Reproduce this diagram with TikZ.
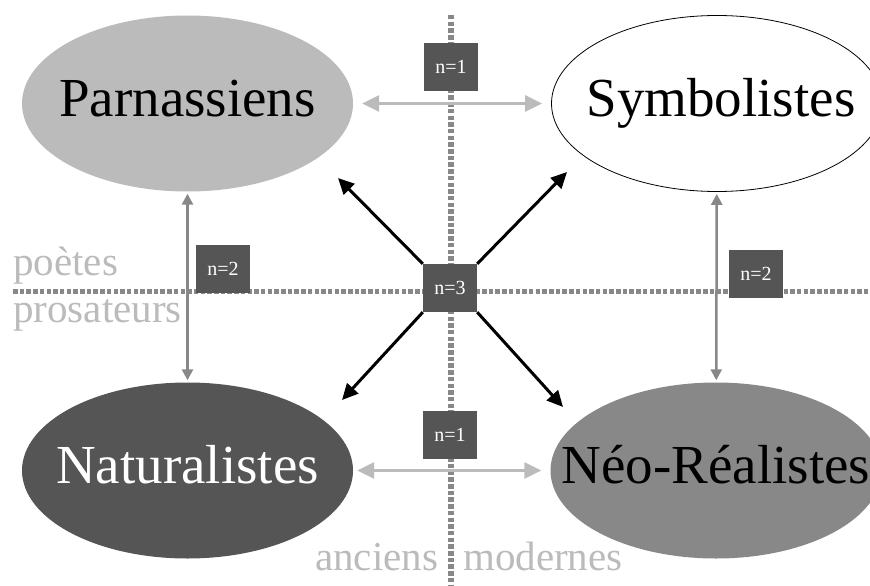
\documentclass[tikz,border=0pt]{standalone}
\usepackage{fontspec}
\setmainfont{Liberation Serif}
\usetikzlibrary{arrows.meta,shapes.geometric}
\definecolor{lightg}{HTML}{BBBBBB}
\definecolor{midg}{HTML}{888888}
\definecolor{darkg}{HTML}{555555}
\begin{document}
\begin{tikzpicture}[x=1pt,y=-1pt,
  school/.style={ellipse, minimum width=331pt, minimum height=176pt, inner sep=0pt},
  schooltext/.style={inner sep=0pt, yshift=-10pt, font=\fontsize{55}{60}\selectfont, text height=0.75em, text depth=0.22em},
  countbox/.style={fill=darkg, text=white, minimum width=54pt, minimum height=48pt,
    inner sep=0pt, font=\fontsize{20}{22}\selectfont},
  axislabel/.style={text=lightg, font=\fontsize{41}{45}\selectfont, inner sep=0pt, anchor=base west},
  divider/.style={draw=midg, line width=5.5pt, dash pattern=on 4.5pt off 2.2pt},
  lightarrow/.style={draw=lightg, line width=3pt, {Triangle[length=17pt,width=16pt]}-{Triangle[length=17pt,width=16pt]}},
  midarrow/.style={draw=midg, line width=2.5pt, {Triangle[length=11pt,width=11pt]}-{Triangle[length=11pt,width=11pt]}},
  blackarrow/.style={draw=black, line width=3pt, -{Triangle[length=16pt,width=15pt]}}
]
\useasboundingbox (0,0) rectangle (870,586);
\clip (0,0) rectangle (870,586);

% dividers
\coordinate (vtop) at (451,15);
\coordinate (vbot) at (451,586);
\coordinate (hleft) at (13,291.5);
\coordinate (hright) at (870,291.5);
\draw[divider] (vtop) -- (vbot);
\draw[divider] (hleft) -- (hright);

% axis labels
\node[axislabel] (poetes) at (13,275) {poètes};
\node[axislabel] (prosateurs) at (13,322) {prosateurs};
\node[axislabel] (anciens) at (315,570) {anciens};
\node[axislabel] (modernes) at (463,570) {modernes};

% schools
\node[school, fill=lightg,
  label={[schooltext]center:Parnassiens}] (parn) at (187.5,103.5) {};
\node[school, draw=black, line width=0.8pt, fill=white,
  label={[schooltext, xshift=4pt]center:Symbolistes}] (symb) at (717,103.5) {};
\node[school, fill=darkg,
  label={[schooltext, text=white]center:Naturalistes}] (nat) at (187.5,470.5) {};
\node[school, fill=midg,
  label={[schooltext]center:Néo-Réalistes}] (neo) at (716,470.5) {};

% gray arrows
\draw[lightarrow, shorten <=9pt, shorten >=9pt] (parn) -- (symb);
\draw[lightarrow, shorten <=4pt, shorten >=9pt] (nat) -- (neo);
\draw[midarrow, shorten <=2pt, shorten >=2pt] (parn) -- (nat);
\draw[midarrow, shorten <=2pt, shorten >=2pt] (symb) -- (neo);

% count boxes
\node[countbox] (n1top) at (451,67) {n=1};
\node[countbox] (n2left) at (223,268.5) {n=2};
\node[countbox] (n3) at (450,288) {n=3};
\node[countbox] (n2right) at (756,274) {n=2};
\node[countbox] (n1bot) at (450,435) {n=1};

% black arrows
\coordinate (tipNW) at (338,178);
\coordinate (tipNE) at (567,172);
\coordinate (tipSW) at (342,400);
\coordinate (tipSE) at (563,407);
\draw[blackarrow] (n3.north west) -- (tipNW);
\draw[blackarrow] (n3.north east) -- (tipNE);
\draw[blackarrow] (n3.south west) -- (tipSW);
\draw[blackarrow] (n3.south east) -- (tipSE);
\end{tikzpicture}
\end{document}
